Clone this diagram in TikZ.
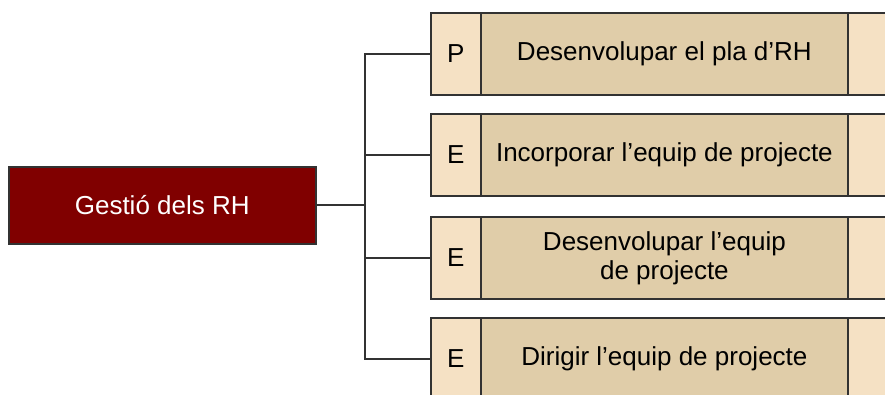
\documentclass[tikz,border=0pt]{standalone}
\usepackage{fontspec}
\setmainfont{Liberation Sans}
\usetikzlibrary{shadows}
\definecolor{mainred}{RGB}{128,0,0}
\definecolor{lightcell}{RGB}{245,225,196}
\definecolor{midcell}{RGB}{224,205,169}
\definecolor{edgegray}{RGB}{50,50,50}
\begin{document}
\begin{tikzpicture}[x=1pt,y=-1pt,
  cellbase/.style={draw=edgegray, line width=1.8pt, inner sep=0pt, anchor=north west,
     font=\fontsize{26}{29}\selectfont, align=center,
     drop shadow={opacity=0.3, shadow xshift=1.5pt, shadow yshift=-1.5pt}},
  lettercell/.style={cellbase, fill=lightcell, minimum width=50pt, minimum height=82pt},
  textcell/.style={cellbase, fill=midcell, minimum width=367pt, minimum height=82pt},
  endcell/.style={cellbase, fill=lightcell, minimum width=80pt, minimum height=82pt},
  mainbox/.style={draw=edgegray, line width=1.5pt, fill=mainred, text=white,
     font=\fontsize{26}{29}\selectfont, minimum width=307pt, minimum height=77pt,
     inner sep=0pt, anchor=north west,
     drop shadow={opacity=0.3, shadow xshift=1.5pt, shadow yshift=-1.5pt}},
  conn/.style={draw=edgegray, line width=1.8pt}]
\useasboundingbox (0,0) rectangle (885,394);
\clip (0,0) rectangle (885,394);
\fill[white] (0,0) rectangle (885,394);

\node[mainbox] (main) at (8,166) {Gestió dels RH};

\node[lettercell] (l1) at (430,12) {P};
\node[textcell] (t1) at (480,12) {Desenvolupar el pla d’RH};
\node[endcell] (e1) at (847,12) {};

\node[lettercell] (l2) at (430,113) {E};
\node[textcell] (t2) at (480,113) {Incorporar l’equip de projecte};
\node[endcell] (e2) at (847,113) {};

\node[lettercell] (l3) at (430,216) {E};
\node[textcell] (t3) at (480,216) {Desenvolupar l’equip\\de projecte};
\node[endcell] (e3) at (847,216) {};

\node[lettercell] (l4) at (430,317) {E};
\node[textcell] (t4) at (480,317) {Dirigir l’equip de projecte};
\node[endcell] (e4) at (847,317) {};

\coordinate (hub) at (365,0);
\draw[conn] (main.east) -- (hub |- main.east);
\draw[conn] (l1.west) -| (hub |- l4.west) -- (l4.west);
\draw[conn] (hub |- l2.west) -- (l2.west);
\draw[conn] (hub |- l3.west) -- (l3.west);
\end{tikzpicture}
\end{document}
